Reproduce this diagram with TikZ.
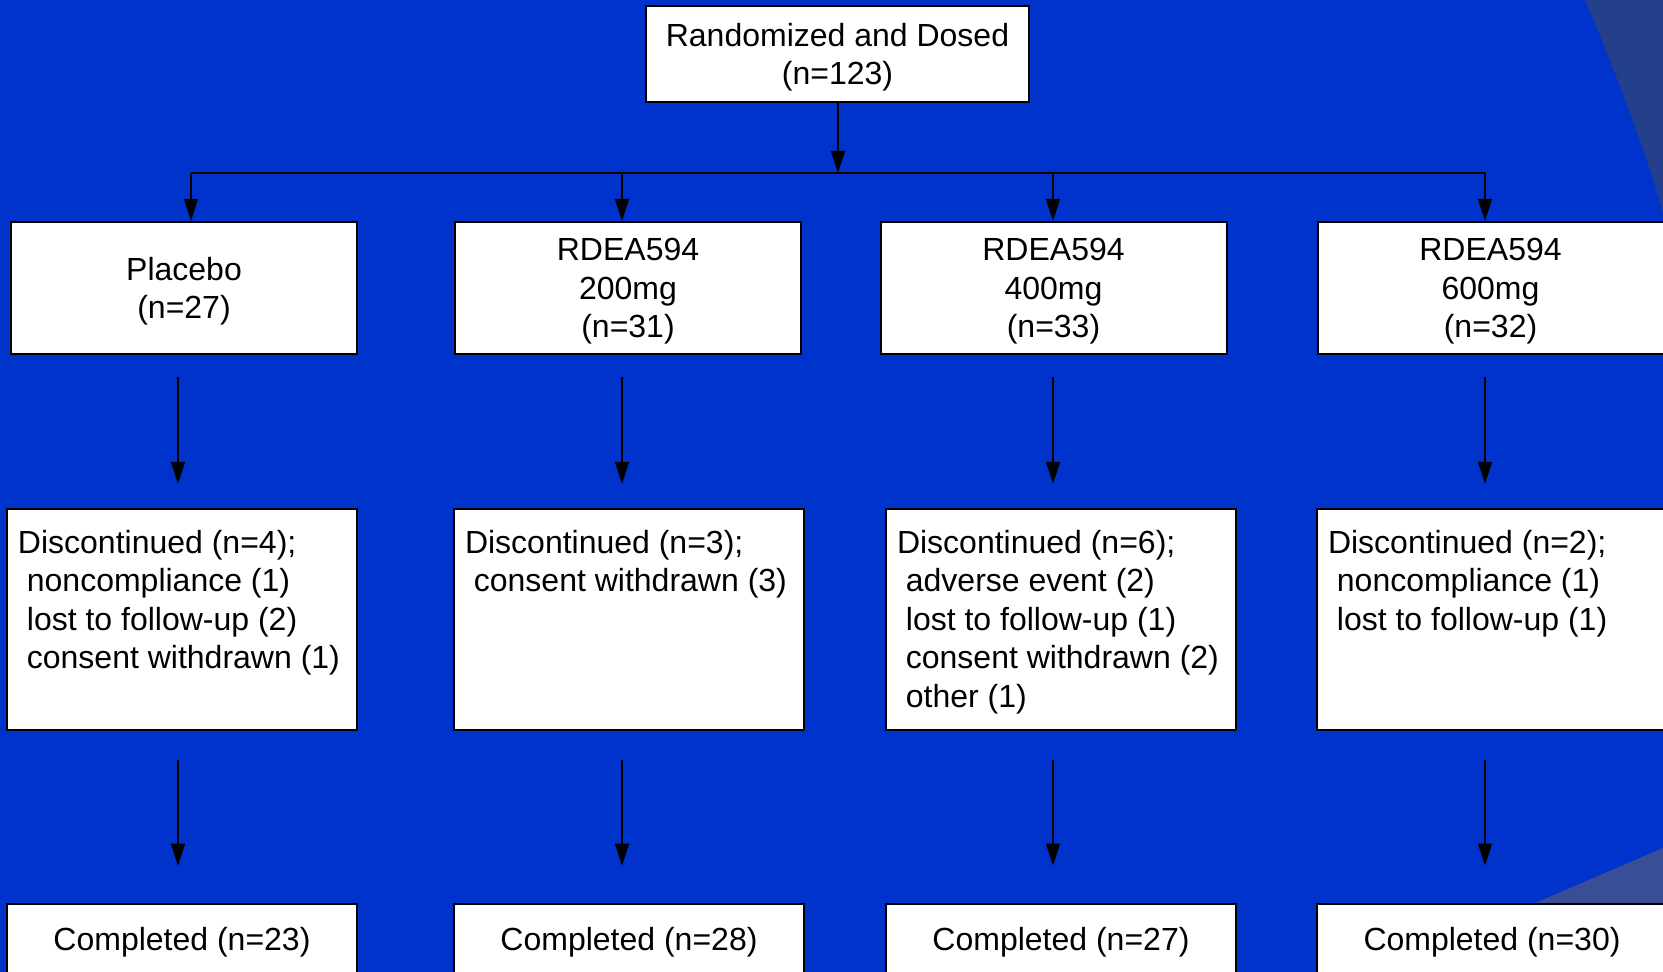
\documentclass[tikz,border=0pt]{standalone}
\usepackage{fontspec}
\setmainfont{Liberation Sans}
\usepackage{xcolor}
\usetikzlibrary{arrows.meta,calc}

\definecolor{slidebg}{HTML}{0033CC}
\definecolor{swoosh}{HTML}{243F8C}
\definecolor{swooshlow}{HTML}{3A4E98}

\newcommand{\lineind}{\hspace*{4.45pt}}
\newcommand{\disctext}[1]{\parbox[c][100pt][t]{164pt}{\raggedright\vspace*{5.4pt}#1}}

\begin{document}
\begin{tikzpicture}[x=0.5pt,y=0.5pt]
    \tikzstyle{every node}+=[inner sep=0pt]
    \tikzstyle{box}=[draw=black, fill=white, line width=1pt, font=\fontsize{16}{19.2}\selectfont, align=center]
    \tikzstyle{armbox}=[box, text depth=0pt, minimum width=173pt, minimum height=66pt]
    \tikzstyle{discbox}=[box, align=left, inner xsep=5.5pt, inner ysep=5.25pt]
    \tikzstyle{donebox}=[box, text depth=0pt, minimum width=175pt, minimum height=35pt]
    \tikzstyle{arr}=[-{Triangle[length=11pt,width=7pt]}, line width=0.6pt]
    % slide background
    \clip (0,0) rectangle (1663,-972);
    \fill [slidebg] (0,0) rectangle (1663,-972);
    \fill [swoosh] (1585,0) .. controls (1615,-70) and (1645,-150) .. (1663,-212) -- (1663,0) -- cycle;
    \fill [swooshlow] (1533,-904) -- (1663,-848) -- (1663,-904) -- cycle;
    % boxes
    \node [box, text depth=0pt, minimum width=191.5pt, minimum height=48pt] (rand) at (837.5,-54) {Randomized and Dosed\\(n=123)};
    \node [armbox] (pla) at (184,-288) {Placebo\\(n=27)};
    \node [armbox] (r200) at (628,-288) {RDEA594\\200mg\\(n=31)};
    \node [armbox] (r400) at (1053.5,-288) {RDEA594\\400mg\\(n=33)};
    \node [armbox] (r600) at (1490.5,-288) {RDEA594\\600mg\\(n=32)};
    \node [discbox] (d1) at (182,-619.5) {\disctext{Discontinued (n=4);\\ \lineind noncompliance (1)\\ \lineind lost to follow-up (2)\\ \lineind consent withdrawn (1)}};
    \node [discbox] (d2) at (629,-619.5) {\disctext{Discontinued (n=3);\\ \lineind consent withdrawn (3)}};
    \node [discbox] (d3) at (1061,-619.5) {\disctext{Discontinued (n=6);\\ \lineind adverse event (2)\\ \lineind lost to follow-up (1)\\ \lineind consent withdrawn (2)\\ \lineind other (1)}};
    \node [discbox] (d4) at (1492,-619.5) {\disctext{Discontinued (n=2);\\ \lineind noncompliance (1)\\ \lineind lost to follow-up (1)}};
    \node [donebox] (c1) at (182,-939) {Completed (n=23)};
    \node [donebox] (c2) at (629,-939) {Completed (n=28)};
    \node [donebox] (c3) at (1061,-939) {Completed (n=27)};
    \node [donebox] (c4) at (1492,-939) {Completed (n=30)};
    % split to the four arms
    \coordinate (split) at (838,-173);
    \coordinate (b1) at (191,-173);
    \coordinate (b2) at (622,-173);
    \coordinate (b3) at (1053,-173);
    \coordinate (b4) at (1485,-173);
    \coordinate (k1) at (178,0);
    \draw [arr] (rand.south -| split) -- (split);
    \draw [line width=0.6pt] (b1) -- (b4);
    \draw [arr] (b1) -- (b1 |- pla.north);
    \draw [arr] (b2) -- (b2 |- r200.north);
    \draw [arr] (b3) -- (b3 |- r400.north);
    \draw [arr] (b4) -- (b4 |- r600.north);
    % arms to discontinued
    \draw [arr, shorten <=11.25pt, shorten >=12.1pt] (k1 |- pla.south) -- (k1 |- d1.north);
    \draw [arr, shorten <=11.25pt, shorten >=12.1pt] (b2 |- r200.south) -- (b2 |- d2.north);
    \draw [arr, shorten <=11.25pt, shorten >=12.1pt] (b3 |- r400.south) -- (b3 |- d3.north);
    \draw [arr, shorten <=11.25pt, shorten >=12.1pt] (b4 |- r600.south) -- (b4 |- d4.north);
    % discontinued to completed
    \draw [arr, shorten <=14.7pt, shorten >=18.7pt] (k1 |- d1.south) -- (k1 |- c1.north);
    \draw [arr, shorten <=14.7pt, shorten >=18.7pt] (b2 |- d2.south) -- (b2 |- c2.north);
    \draw [arr, shorten <=14.7pt, shorten >=18.7pt] (b3 |- d3.south) -- (b3 |- c3.north);
    \draw [arr, shorten <=14.7pt, shorten >=18.7pt] (b4 |- d4.south) -- (b4 |- c4.north);
\end{tikzpicture}
\end{document}
